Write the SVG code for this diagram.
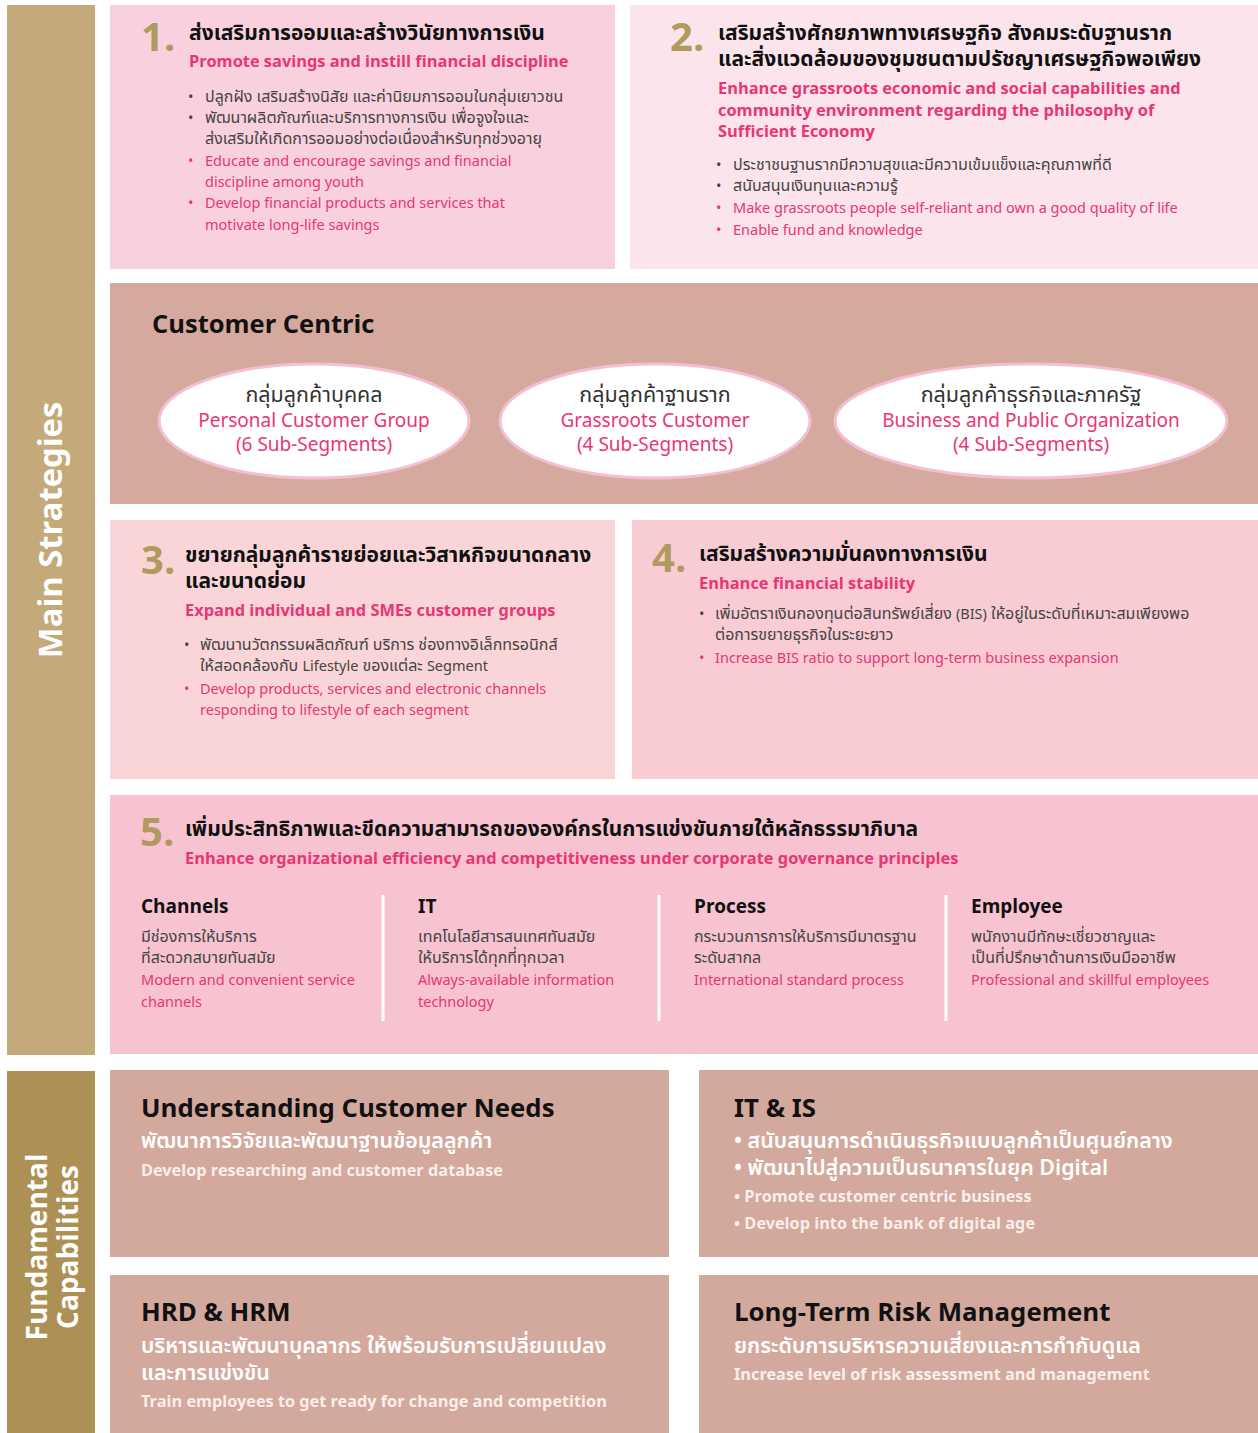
<svg xmlns="http://www.w3.org/2000/svg" width="1258" height="1433" viewBox="0 0 1258 1433">
<style>
text{font-family:"Noto Sans Thai","Noto Sans","Open Sans",sans-serif}
.num{font-size:40px;font-weight:700;fill:#b09a5e}
.th{font-size:21px;font-weight:700;fill:#111}
.en{font-size:16.4px;font-weight:700;fill:#ea3574}
.b{font-size:16px;fill:#444}
.e{font-size:14.5px}
.bp{font-size:14.5px;fill:#ea3574}
.ch{font-size:19px;font-weight:700;fill:#111}
.el{fill:#fff;stroke:#f4bfd2;stroke-width:3}
.et{font-size:21.5px;fill:#333;text-anchor:middle}
.ep{font-size:19px;fill:#ea3574;text-anchor:middle}
.bh{font-size:25.8px;font-weight:700;fill:#111}
.bt{font-size:21.4px;font-weight:600;fill:#fff}
.be{font-size:16.3px;font-weight:700;fill:#f8eeea}
.side{font-weight:700;fill:#fff;text-anchor:middle}
.div{stroke:#fff;stroke-width:3}
</style>
<rect x="7" y="5" width="88" height="1050" fill="#c4a97a"/>
<text class="side" font-size="32.7" transform="translate(62,530) rotate(-90)">Main Strategies</text>
<rect x="7" y="1071" width="88" height="362" fill="#ad9054"/>
<text class="side" font-size="28" transform="translate(47,1247) rotate(-90)">Fundamental</text>
<text class="side" font-size="28" transform="translate(78,1247) rotate(-90)">Capabilities</text>

<g id="s1">
<rect x="110" y="5" width="505" height="264" fill="#f9d1de"/>
<text class="num" x="141" y="51">1.</text>
<text class="th" x="189" y="40">ส่งเสริมการออมและสร้างวินัยทางการเงิน</text>
<text class="en" x="189" y="67">Promote savings and instill financial discipline</text>
<text class="b"><tspan x="188" y="102" class="e">•</tspan><tspan x="205" y="102">ปลูกฝัง เสริมสร้างนิสัย และค่านิยมการออมในกลุ่มเยาวชน</tspan><tspan x="188" y="123" class="e">•</tspan><tspan x="205" y="123">พัฒนาผลิตภัณฑ์และบริการทางการเงิน เพื่อจูงใจและ</tspan><tspan x="205" y="144">ส่งเสริมให้เกิดการออมอย่างต่อเนื่องสำหรับทุกช่วงอายุ</tspan></text>
<text class="bp"><tspan x="188" y="166">•</tspan><tspan x="205" y="166">Educate and encourage savings and financial</tspan><tspan x="205" y="187">discipline among youth</tspan><tspan x="188" y="208">•</tspan><tspan x="205" y="208">Develop financial products and services that</tspan><tspan x="205" y="230">motivate long-life savings</tspan></text>
</g>

<g id="s2">
<rect x="630" y="5" width="628" height="264" fill="#fce4ec"/>
<text class="num" x="670" y="51">2.</text>
<text class="th"><tspan x="718" y="40">เสริมสร้างศักยภาพทางเศรษฐกิจ สังคมระดับฐานราก</tspan><tspan x="718" y="66">และสิ่งแวดล้อมของชุมชนตามปรัชญาเศรษฐกิจพอเพียง</tspan></text>
<text class="en"><tspan x="718" y="94">Enhance grassroots economic and social capabilities and</tspan><tspan x="718" y="116">community environment regarding the philosophy of</tspan><tspan x="718" y="137">Sufficient Economy</tspan></text>
<text class="b"><tspan x="716" y="170" class="e">•</tspan><tspan x="733" y="170">ประชาชนฐานรากมีความสุขและมีความเข้มแข็งและคุณภาพที่ดี</tspan><tspan x="716" y="191" class="e">•</tspan><tspan x="733" y="191">สนับสนุนเงินทุนและความรู้</tspan></text>
<text class="bp"><tspan x="716" y="213">•</tspan><tspan x="733" y="213">Make grassroots people self-reliant and own a good quality of life</tspan><tspan x="716" y="235">•</tspan><tspan x="733" y="235">Enable fund and knowledge</tspan></text>
</g>

<g id="cc">
<rect x="110" y="283" width="1148" height="221" fill="#d5a99d"/>
<text x="152" y="333" font-size="25.5" font-weight="700" fill="#111">Customer Centric</text>
</g>
<g id="c1">
<ellipse class="el" cx="314" cy="421" rx="155" ry="57"/>
<text class="et" x="314" y="402">กลุ่มลูกค้าบุคคล</text>
<text class="ep"><tspan x="314" y="427">Personal Customer Group</tspan><tspan x="314" y="451">(6 Sub-Segments)</tspan></text>
</g>
<g id="c2">
<ellipse class="el" cx="655" cy="421" rx="155" ry="57"/>
<text class="et" x="655" y="402">กลุ่มลูกค้าฐานราก</text>
<text class="ep"><tspan x="655" y="427">Grassroots Customer</tspan><tspan x="655" y="451">(4 Sub-Segments)</tspan></text>
</g>
<g id="c3">
<ellipse class="el" cx="1031" cy="421" rx="196" ry="57"/>
<text class="et" x="1031" y="402">กลุ่มลูกค้าธุรกิจและภาครัฐ</text>
<text class="ep"><tspan x="1031" y="427">Business and Public Organization</tspan><tspan x="1031" y="451">(4 Sub-Segments)</tspan></text>
</g>

<g id="s3">
<rect x="110" y="520" width="505" height="259" fill="#f9d5d8"/>
<text class="num" x="141" y="574">3.</text>
<text class="th"><tspan x="185" y="562">ขยายกลุ่มลูกค้ารายย่อยและวิสาหกิจขนาดกลาง</tspan><tspan x="185" y="588">และขนาดย่อม</tspan></text>
<text class="en" x="185" y="616">Expand individual and SMEs customer groups</text>
<text class="b"><tspan x="184" y="650" class="e">•</tspan><tspan x="200" y="650">พัฒนานวัตกรรมผลิตภัณฑ์ บริการ ช่องทางอิเล็กทรอนิกส์</tspan><tspan x="200" y="671">ให้สอดคล้องกับ </tspan><tspan class="e">Lifestyle</tspan><tspan> ของแต่ละ </tspan><tspan class="e">Segment</tspan></text>
<text class="bp"><tspan x="184" y="694">•</tspan><tspan x="200" y="694">Develop products, services and electronic channels</tspan><tspan x="200" y="715">responding to lifestyle of each segment</tspan></text>
</g>

<g id="s4">
<rect x="632" y="520" width="626" height="259" fill="#f9ccd4"/>
<text class="num" x="652" y="572">4.</text>
<text class="th" x="699" y="561">เสริมสร้างความมั่นคงทางการเงิน</text>
<text class="en" x="699" y="589">Enhance financial stability</text>
<text class="b"><tspan x="699" y="619" class="e">•</tspan><tspan x="715" y="619">เพิ่มอัตราเงินกองทุนต่อสินทรัพย์เสี่ยง </tspan><tspan class="e">(BIS)</tspan><tspan> ให้อยู่ในระดับที่เหมาะสมเพียงพอ</tspan><tspan x="715" y="640">ต่อการขยายธุรกิจในระยะยาว</tspan></text>
<text class="bp"><tspan x="699" y="663">•</tspan><tspan x="715" y="663">Increase BIS ratio to support long-term business expansion</tspan></text>
</g>

<g id="s5">
<rect x="110" y="795" width="1148" height="259" fill="#f7c3d0"/>
<text class="num" x="140" y="846">5.</text>
<text class="th" x="185" y="836">เพิ่มประสิทธิภาพและขีดความสามารถขององค์กรในการแข่งขันภายใต้หลักธรรมาภิบาล</text>
<text class="en" x="185" y="864">Enhance organizational efficiency and competitiveness under corporate governance principles</text>
</g>
<g id="connectors">
<line class="div" x1="383" y1="895" x2="383" y2="1021"/>
<line class="div" x1="659" y1="895" x2="659" y2="1021"/>
<line class="div" x1="946" y1="895" x2="946" y2="1021"/>
</g>
<g id="p1">
<text class="ch" x="141" y="913">Channels</text>
<text class="b"><tspan x="141" y="942">มีช่องการให้บริการ</tspan><tspan x="141" y="963">ที่สะดวกสบายทันสมัย</tspan></text>
<text class="bp"><tspan x="141" y="985">Modern and convenient service</tspan><tspan x="141" y="1007">channels</tspan></text>
</g>
<g id="p2">
<text class="ch" x="418" y="913">IT</text>
<text class="b"><tspan x="418" y="942">เทคโนโลยีสารสนเทศทันสมัย</tspan><tspan x="418" y="963">ให้บริการได้ทุกที่ทุกเวลา</tspan></text>
<text class="bp"><tspan x="418" y="985">Always-available information</tspan><tspan x="418" y="1007">technology</tspan></text>
</g>
<g id="p3">
<text class="ch" x="694" y="913">Process</text>
<text class="b"><tspan x="694" y="942">กระบวนการการให้บริการมีมาตรฐาน</tspan><tspan x="694" y="963">ระดับสากล</tspan></text>
<text class="bp"><tspan x="694" y="985">International standard process</tspan></text>
</g>
<g id="p4">
<text class="ch" x="971" y="913">Employee</text>
<text class="b"><tspan x="971" y="942">พนักงานมีทักษะเชี่ยวชาญและ</tspan><tspan x="971" y="963">เป็นที่ปรึกษาด้านการเงินมืออาชีพ</tspan></text>
<text class="bp"><tspan x="971" y="985">Professional and skillful employees</tspan></text>
</g>

<g id="f1">
<rect x="110" y="1070" width="559" height="187" fill="#d4a99d"/>
<text class="bh" x="141" y="1117">Understanding Customer Needs</text>
<text class="bt" x="141" y="1148">พัฒนาการวิจัยและพัฒนาฐานข้อมูลลูกค้า</text>
<text class="be" x="141" y="1176">Develop researching and customer database</text>
</g>
<g id="f2">
<rect x="699" y="1070" width="559" height="187" fill="#d4a99d"/>
<text class="bh" x="734" y="1117">IT &amp; IS</text>
<text class="bt"><tspan x="734" y="1148">• สนับสนุนการดำเนินธุรกิจแบบลูกค้าเป็นศูนย์กลาง</tspan><tspan x="734" y="1175">• พัฒนาไปสู่ความเป็นธนาคารในยุค Digital</tspan></text>
<text class="be"><tspan x="734" y="1202">• Promote customer centric business</tspan><tspan x="734" y="1229">• Develop into the bank of digital age</tspan></text>
</g>
<g id="f3">
<rect x="110" y="1275" width="559" height="158" fill="#d4a99d"/>
<text class="bh" x="141" y="1321">HRD &amp; HRM</text>
<text class="bt"><tspan x="141" y="1353">บริหารและพัฒนาบุคลากร ให้พร้อมรับการเปลี่ยนแปลง</tspan><tspan x="141" y="1380">และการแข่งขัน</tspan></text>
<text class="be" x="141" y="1407">Train employees to get ready for change and competition</text>
</g>
<g id="f4">
<rect x="699" y="1275" width="559" height="158" fill="#d4a99d"/>
<text class="bh" x="734" y="1321">Long-Term Risk Management</text>
<text class="bt" x="734" y="1353">ยกระดับการบริหารความเสี่ยงและการกำกับดูแล</text>
<text class="be" x="734" y="1380">Increase level of risk assessment and management</text>
</g>
</svg>
